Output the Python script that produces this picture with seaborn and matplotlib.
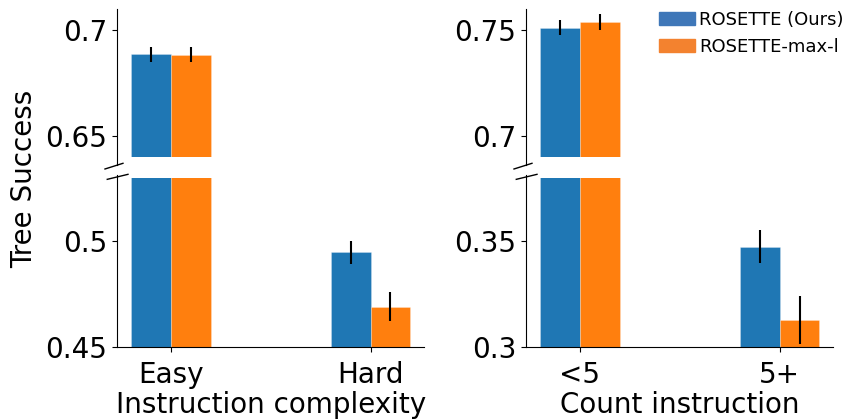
import pandas as pd
import matplotlib.pyplot as plt
import seaborn as sns
from matplotlib.patches import Patch

# valores
metodos = ['ROSETTE (Ours)', 'ROSETTE-max-l']
cores = ['#1f77b4', '#ff7f0e']
cores_legenda = ['#3f77b8', '#f3822f']

complexidade = ['Easy', 'Hard']
complexidade_ours = [0.6885, 0.4949]
complexidade_maxl = [0.6883, 0.4691]
complexidade_err_ours = [0.0037, 0.0055]
complexidade_err_maxl = [0.0035, 0.0068]

contagem = ['<5', '5+']
contagem_ours = [0.7511, 0.3475]
contagem_maxl = [0.7538, 0.3127]
contagem_err_ours = [0.0036, 0.0079]
contagem_err_maxl = [0.0039, 0.0113]


def monta_df(cats, ours, maxl):
    return pd.DataFrame({
        'cat': cats * 2,
        'metodo': [metodos[0]] * len(cats) + [metodos[1]] * len(cats),
        'valor': ours + maxl,
    })


fig = plt.figure(figsize=(8.47, 4.19), dpi=100)

paineis = [
    (0.1381, monta_df(complexidade, complexidade_ours, complexidade_maxl),
     [complexidade_err_ours, complexidade_err_maxl],
     (0.64, 0.71), [0.65, 0.7], (0.45, 0.53), [0.45, 0.5], 'Instruction complexity'),
    (0.6210, monta_df(contagem, contagem_ours, contagem_maxl),
     [contagem_err_ours, contagem_err_maxl],
     (0.69, 0.76), [0.7, 0.75], (0.30, 0.38), [0.3, 0.35], 'Count instruction'),
]

for esq, df, erros, lim_top, ticks_top, lim_bot, ticks_bot, xlabel in paineis:
    ax_top = fig.add_axes([esq, 0.6253, 0.3630, 0.3532])
    ax_bot = fig.add_axes([esq, 0.1718, 0.3630, 0.4033])
    for ax in (ax_top, ax_bot):
        sns.barplot(data=df, x='cat', y='valor', hue='metodo', hue_order=metodos,
                    palette=cores, saturation=1, width=0.4, errorbar=None,
                    legend=False, ax=ax, linewidth=0.5, edgecolor=(1, 1, 1, 0.35))
        for cont, err in zip(ax.containers, erros):
            xs = [p.get_x() + p.get_width() / 2 for p in cont]
            ys = [p.get_height() for p in cont]
            ax.errorbar(xs, ys, yerr=err, fmt='none', ecolor='k', elinewidth=1.5)
        ax.set_xlim(-0.27, 1.27)
        ax.spines['right'].set_visible(False)
        ax.set_ylabel('')
        ax.tick_params(axis='both', labelsize=20)
        ax.tick_params(axis='x', pad=6.5)

    ax_top.set_ylim(*lim_top)
    ax_top.set_yticks(ticks_top, [f'{v:g}' for v in ticks_top])
    ax_top.spines['bottom'].set_visible(False)
    ax_top.spines['top'].set_visible(False)
    ax_top.tick_params(axis='x', bottom=False, labelbottom=False)
    ax_top.set_xlabel('')
    faixa = lim_top[1] - lim_top[0]
    ax_top.spines['left'].set_bounds(lim_top[0] - faixa * 8 / 148, lim_top[1])

    ax_bot.set_ylim(*lim_bot)
    ax_bot.set_yticks(ticks_bot, [f'{v:g}' for v in ticks_bot])
    ax_bot.spines['top'].set_visible(False)
    ax_bot.set_xlabel(xlabel, fontsize=20, labelpad=1.5)
    faixa = lim_bot[1] - lim_bot[0]
    ax_bot.spines['left'].set_bounds(lim_bot[0], lim_bot[1] + faixa * 3 / 169)

    # marcas de quebra do eixo
    ax_top.plot([-0.039, 0.0195], [-0.081, -0.0426], transform=ax_top.transAxes,
                color='k', lw=1, clip_on=False)
    ax_bot.plot([-0.0316, 0.0358], [0.9923, 1.0219], transform=ax_bot.transAxes,
                color='k', lw=1, clip_on=False)

fig.text(0.028, 0.573, 'Tree Success', rotation=90, fontsize=20, ha='center', va='center')

handles = [Patch(color=c) for c in cores_legenda]
fig.legend(handles, metodos, loc='upper right', bbox_to_anchor=(1 + 9 / 847, 1 + 2 / 419),
           frameon=False, fontsize=13, handletextpad=0.2, borderaxespad=0.3)

fig.savefig('out.png', dpi=100)
